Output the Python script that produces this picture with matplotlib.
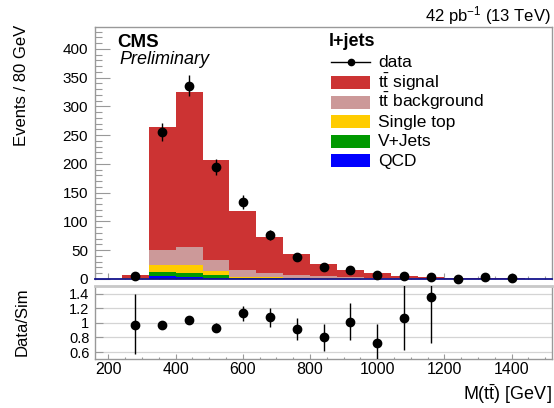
import numpy as np
import matplotlib
matplotlib.use('Agg')
import matplotlib.pyplot as plt
from matplotlib.patches import Rectangle
from matplotlib.lines import Line2D
from matplotlib.ticker import MultipleLocator, FixedLocator

plt.rcParams['font.family'] = ['Liberation Sans', 'DejaVu Sans']
plt.rcParams['mathtext.fontset'] = 'custom'
plt.rcParams['mathtext.rm'] = 'Liberation Sans'
plt.rcParams['mathtext.it'] = 'Liberation Sans:italic'
plt.rcParams['mathtext.bf'] = 'Liberation Sans:bold'

# ---------------- data ----------------
bin_edges = [160, 240, 320, 400, 480, 560, 640, 720, 800, 880, 960,
             1040, 1120, 1200, 1280, 1360, 1440, 1520]
qcd      = [0, 0.3, 4.6, 4.0, 2.6, 0.8, 0.6, 0.4, 0.3, 0.2, 0.1, 0.1, 0.05, 0.05, 0.03, 0.02, 0.02]
vjets    = [0, 0.3, 7.0, 6.4, 3.8, 1.0, 0.9, 0.6, 0.4, 0.3, 0.2, 0.1, 0.05, 0.05, 0.03, 0.02, 0.02]
singletop= [0, 0.3, 12.0, 14.5, 7.6, 2.2, 1.5, 1.0, 0.7, 0.5, 0.3, 0.2, 0.1, 0.1, 0.05, 0.05, 0.03]
tt_bkg   = [0, 1.0, 26.0, 31.0, 19.6, 11.6, 8.0, 4.4, 3.0, 2.0, 1.2, 0.6, 0.4, 0.3, 0.2, 0.1, 0.1]
tt_sig   = [0, 4.5, 215.4, 269.1, 173.4, 102.4, 61.5, 37.1, 21.1, 13.5, 8.2, 4.0, 2.45, 1.55, 1.19, 0.81, 0.53]

data_x   = [280, 360, 440, 520, 600, 680, 760, 840, 920, 1000, 1080, 1160, 1240, 1320, 1400]
data_y   = [6, 256, 336, 194, 134, 77, 39, 20, 16, 7, 5, 4, 0, 3, 1]
data_err = [2.4, 16.0, 18.3, 13.9, 11.6, 8.8, 6.2, 4.5, 4.0, 2.6, 2.2, 2.0, 0.0, 1.7, 1.0]

ratio_x  = [280, 360, 440, 520, 600, 680, 760, 840, 920, 1000, 1080, 1160]
ratio_y  = [0.97, 0.97, 1.04, 0.93, 1.13, 1.08, 0.91, 0.80, 1.01, 0.72, 1.06, 1.35]
ratio_lo = [0.57, 0.91, 0.98, 0.87, 1.03, 0.95, 0.76, 0.62, 0.76, 0.45, 0.63, 0.73]
ratio_hi = [1.39, 1.03, 1.09, 1.00, 1.23, 1.20, 1.06, 0.99, 1.27, 0.99, 1.55, 2.00]

components = [
    ("QCD",         qcd,       "#0000ff"),
    ("V+Jets",      vjets,     "#009900"),
    ("Single top",  singletop, "#ffcc00"),
    (r"$\mathrm{t\bar{t}}$ background", tt_bkg, "#cc9999"),
    (r"$\mathrm{t\bar{t}}$ signal",     tt_sig, "#cc3333"),
]

# ---------------- figure ----------------
W, H = 554, 408
fig = plt.figure(figsize=(W / 100, H / 100), dpi=100)

def fx(px):
    return px / W

def fy(py):
    return 1 - py / H

ax = fig.add_axes([fx(95), fy(279), fx(552) - fx(95), fy(27) - fy(279)])
rax = fig.add_axes([fx(95), fy(359), fx(552) - fx(95), fy(286) - fy(359)])

frame_col = '#999999'

# stacked histogram
edges = np.array(bin_edges, dtype=float)
cum = np.zeros(len(edges) - 1)
for name, vals, col in components:
    v = np.array(vals, dtype=float)
    ax.stairs(cum + v, edges, baseline=cum, fill=True, color=col, lw=0, zorder=2)
    cum = cum + v

ax.axhline(0, color='#14148c', lw=1.3, zorder=3, clip_on=False)

ax.errorbar(data_x, data_y, yerr=data_err, fmt='o', color='black', ms=6,
            elinewidth=1.0, capsize=0, zorder=5, clip_on=False)

ax.set_xlim(160, 1520)
ax.set_ylim(0, 438)
ax.yaxis.set_major_locator(MultipleLocator(50))
ax.yaxis.set_minor_locator(MultipleLocator(10))
ax.xaxis.set_major_locator(MultipleLocator(200))
ax.xaxis.set_minor_locator(MultipleLocator(50))
ax.tick_params(axis='y', which='major', direction='in', length=10.5, width=0.8,
               color=frame_col, labelsize=11, pad=5)
ax.tick_params(axis='y', which='minor', direction='in', length=5, width=0.8, color=frame_col)
ax.tick_params(axis='x', which='major', direction='in', length=4.3, width=0.8,
               color=frame_col, labelbottom=False)
ax.tick_params(axis='x', which='minor', direction='in', length=2.2, width=0.8, color=frame_col)
for s in ['left', 'top', 'right']:
    ax.spines[s].set_color(frame_col)
    ax.spines[s].set_linewidth(1.0)
ax.spines['bottom'].set_visible(False)

# ratio panel
rax.set_xlim(160, 1520)
rax.set_ylim(0.505, 1.505)
for g in [0.6, 0.8, 1.0, 1.2, 1.4]:
    rax.axhline(g, color='#d4d4d4', lw=0.9, zorder=1)
yl = np.array(ratio_y)
rax.errorbar(ratio_x, ratio_y,
             yerr=[yl - np.array(ratio_lo), np.array(ratio_hi) - yl],
             fmt='o', color='black', ms=6, elinewidth=1.0, capsize=0, zorder=5)
rax.yaxis.set_major_locator(FixedLocator([0.6, 0.8, 1.0, 1.2, 1.4]))
rax.set_yticklabels(['0.6', '0.8', '1', '1.2', '1.4'])
rax.xaxis.set_major_locator(MultipleLocator(200))
rax.xaxis.set_minor_locator(MultipleLocator(50))
rax.tick_params(axis='y', which='major', direction='in', length=6, width=0.8,
                color=frame_col, labelsize=10.5, pad=4)
rax.tick_params(axis='x', which='major', direction='in', length=3.5, width=0.8,
                color=frame_col, labelsize=11.5, pad=2)
rax.tick_params(axis='x', which='minor', direction='in', length=1.8, width=0.8, color=frame_col)
for s in ['left', 'bottom', 'right']:
    rax.spines[s].set_color(frame_col)
    rax.spines[s].set_linewidth(1.0)
rax.spines['top'].set_color('#c8c8c8')
rax.spines['top'].set_linewidth(2.0)

# labels
fig.text(fx(22), fy(25), 'Events / 80 GeV', rotation=90, ha='center', va='top', size=12)
fig.text(fx(22), fy(287), 'Data/Sim', rotation=90, ha='center', va='top', size=12)
fig.text(fx(552), fy(400), r'M($\mathrm{t\bar{t}}$) [GeV]', ha='right', va='baseline', size=13)
fig.text(fx(551), fy(21), r'42 pb$^{-1}$ (13 TeV)', ha='right', va='baseline', size=12)
fig.text(fx(117), fy(47), 'CMS', weight='bold', size=13.5, va='baseline')
fig.text(fx(119), fy(63.5), 'Preliminary', style='italic', size=13, va='baseline')

# legend (manual)
fig.text(fx(329), fy(46.5), 'l+jets', weight='bold', size=13, va='baseline')
box_x0, box_x1, box_h = 331, 370, 13
leg_rows = [
    ('data', None, 62.3),
    (components[4][0], components[4][2], 82.7),
    (components[3][0], components[3][2], 102.3),
    (components[2][0], components[2][2], 121.7),
    (components[1][0], components[1][2], 141.3),
    (components[0][0], components[0][2], 160.7),
]
for label, col, yc in leg_rows:
    if col is None:
        fig.add_artist(Line2D([fx(box_x0), fx(box_x1)], [fy(yc), fy(yc)],
                              color='black', lw=1.0, transform=fig.transFigure))
        fig.add_artist(Line2D([fx((box_x0 + box_x1) / 2)], [fy(yc)], marker='o',
                              ms=4.5, color='black', transform=fig.transFigure))
    else:
        fig.add_artist(Rectangle((fx(box_x0), fy(yc + box_h / 2)),
                                 fx(box_x1) - fx(box_x0), fy(yc - box_h / 2) - fy(yc + box_h / 2),
                                 facecolor=col, edgecolor='none', transform=fig.transFigure))
    fig.text(fx(378), fy(yc + 5), label, size=12.5, va='baseline')

fig.savefig('out.png', dpi=100)
